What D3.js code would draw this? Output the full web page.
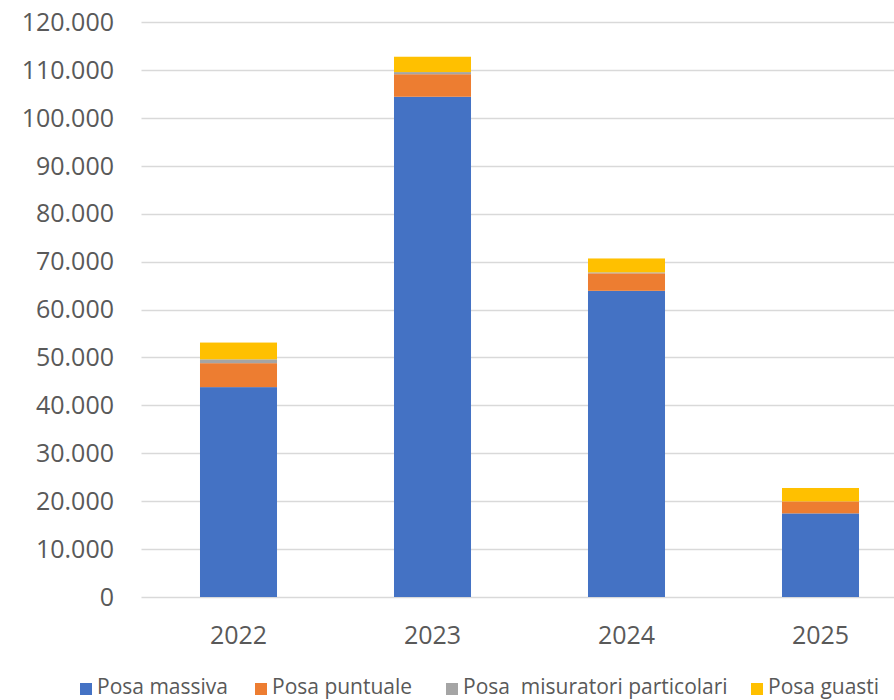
<!DOCTYPE html>
<html><head><meta charset="utf-8">
<script src="https://cdn.jsdelivr.net/npm/d3@7"></script>
<style>body{margin:0;background:#fff;}svg{display:block;}</style>
</head><body>
<svg id="c" width="894" height="700"></svg>
<script>
const categories = ["2022", "2023", "2024", "2025"];
const seriesNames = ["Posa massiva", "Posa puntuale", "Posa  misuratori particolari", "Posa guasti"];
const posaMassiva = [43800, 104400, 63900, 17450];
const posaPuntuale = [5000, 4700, 3650, 2500];
const posaMisuratori = [800, 450, 200, 0];
const posaGuasti = [3500, 3200, 2900, 2800];
const yTicks = [0, 10000, 20000, 30000, 40000, 50000, 60000, 70000, 80000, 90000, 100000, 110000, 120000];
const colors = ["#4472c4", "#ed7d31", "#a5a5a5", "#ffc000"];

const svg = d3.select("#c");
const font = "'Open Sans', 'Liberation Sans', sans-serif";
const y = d3.scaleLinear().domain([0, 120000]).range([597, 22]);
const x = d3.scaleBand().domain(categories).range([141.5, 917.5]).padding(0);
const barW = x.bandwidth() * 0.397;

// gridlines
svg.append("g").selectAll("line").data(yTicks).join("line")
  .attr("x1", 141.5).attr("x2", 917.5)
  .attr("y1", d => Math.round(y(d)) + 0.5).attr("y2", d => Math.round(y(d)) + 0.5)
  .attr("stroke", "#d9d9d9").attr("stroke-width", 1.3);

// y labels
const fmt = d => d3.format(",")(d).replace(/,/g, ".");
svg.append("g").selectAll("text").data(yTicks).join("text")
  .attr("x", 114).attr("y", d => y(d)).attr("dy", "0.35em")
  .attr("text-anchor", "end").attr("font-family", font).attr("font-size", 25)
  .attr("fill", "#595959").text(fmt);

// stacked bars
const data = categories.map((c, i) => ({cat: c, s0: posaMassiva[i], s1: posaPuntuale[i], s2: posaMisuratori[i], s3: posaGuasti[i]}));
const stack = d3.stack().keys(["s0", "s1", "s2", "s3"])(data);
svg.append("g").selectAll("g").data(stack).join("g")
  .attr("fill", (d, i) => colors[i])
  .selectAll("rect").data(d => d).join("rect")
  .attr("x", d => x(d.data.cat) + (x.bandwidth() - barW) / 2)
  .attr("width", barW)
  .attr("y", d => y(d[1]))
  .attr("height", d => y(d[0]) - y(d[1]));

// x labels
svg.append("g").selectAll("text").data(categories).join("text")
  .attr("x", d => x(d) + x.bandwidth() / 2).attr("y", 635).attr("dy", "0.35em")
  .attr("text-anchor", "middle").attr("font-family", font).attr("font-size", 25)
  .attr("fill", "#595959").text(d => d);

// legend
const legX = [80, 255, 446, 751];
const leg = svg.append("g").selectAll("g").data(seriesNames).join("g")
  .attr("transform", (d, i) => `translate(${legX[i]},0)`);
leg.append("rect").attr("x", 0).attr("y", 683).attr("width", 12).attr("height", 12)
  .attr("fill", (d, i) => colors[i]);
leg.append("text").attr("x", 17).attr("y", 687).attr("dy", "0.35em")
  .attr("font-family", font).attr("font-size", 21).attr("fill", "#595959")
  .attr("xml:space", "preserve").style("white-space", "pre").text(d => d);
</script>
</body></html>
